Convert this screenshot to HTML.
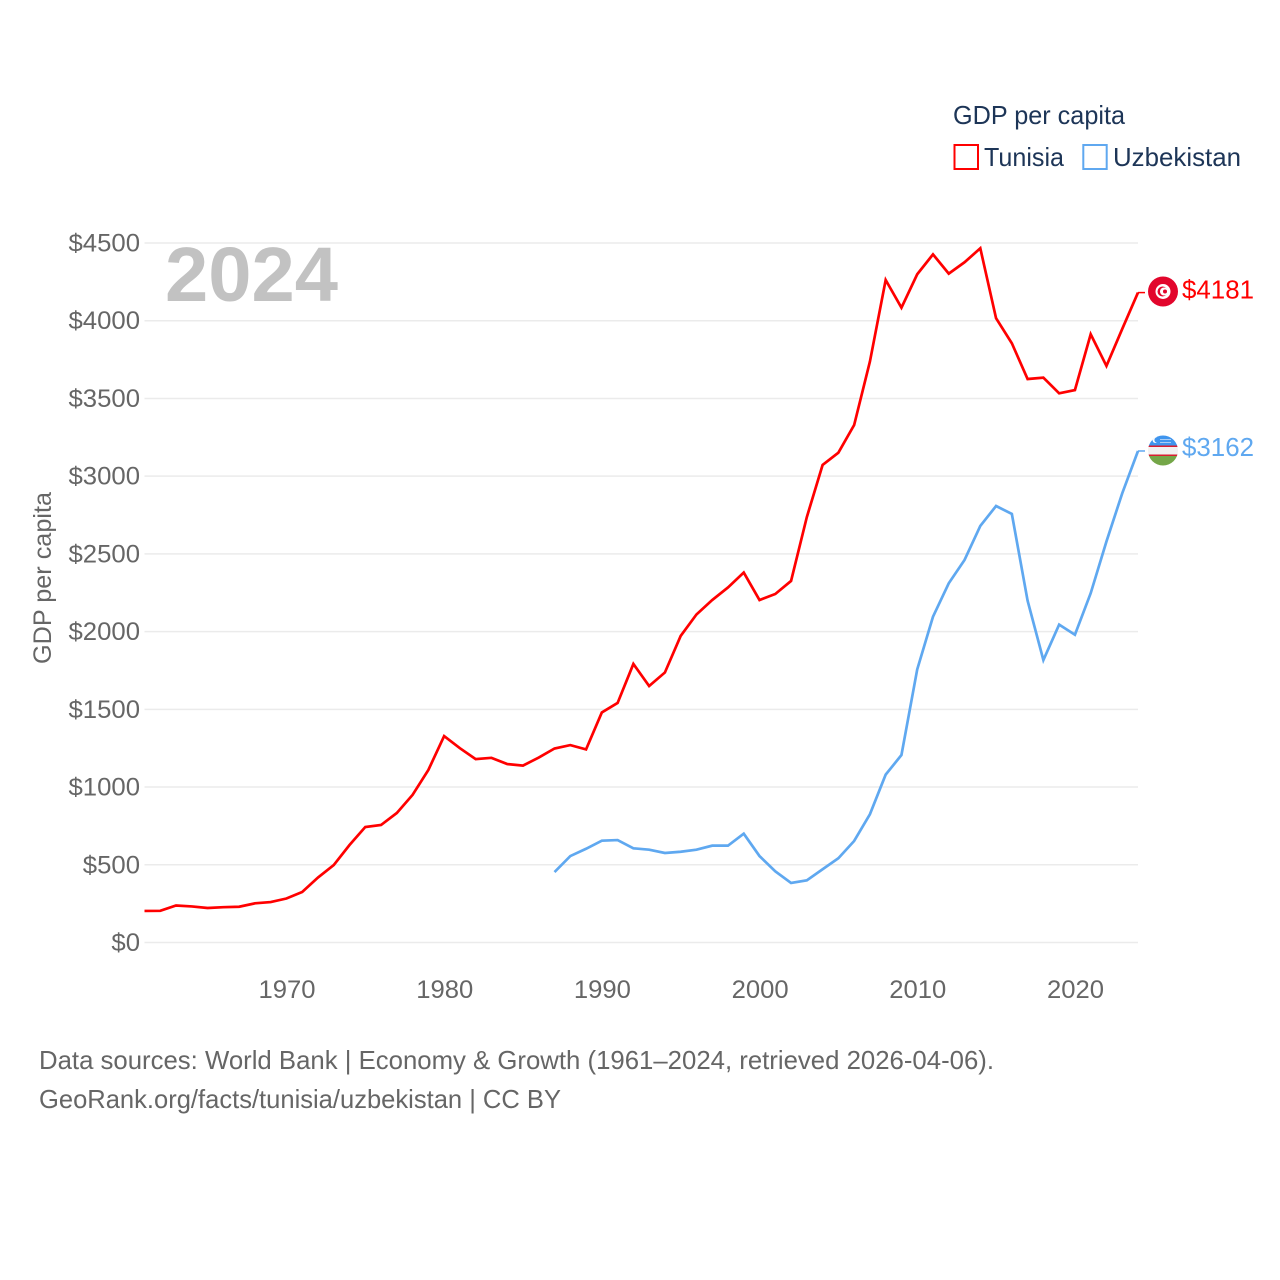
<!DOCTYPE html>
<html lang="en">
<head>
<meta charset="utf-8">
<title>GDP per capita: Tunisia and Uzbekistan</title>
<style>
html,body{margin:0;padding:0;background:#fff;}
svg{display:block;font-family:"Liberation Sans",sans-serif;}
</style>
</head>
<body>
<svg id="chart" xmlns="http://www.w3.org/2000/svg" width="1280" height="1280" viewBox="0 0 1280 1280">
  <defs>
    <clipPath id="flag-clip-uz"><circle cx="1163" cy="450.5" r="15"/></clipPath>
  </defs>
  <rect x="0" y="0" width="1280" height="1280" fill="#fff"/>
  <g id="grid"></g>
  <g id="yticks"></g>
  <g id="xticks"></g>
  <text transform="translate(51,578) rotate(-90)" text-anchor="middle" font-size="25" fill="#666" textLength="172" lengthAdjust="spacingAndGlyphs">GDP per capita</text>
  <text x="165" y="301" font-size="77" font-weight="700" fill="#c2c2c2" textLength="173" lengthAdjust="spacingAndGlyphs">2024</text>
  <g id="series"></g>

  <g>
    <text x="953" y="124" font-size="26" fill="#1d3557" textLength="172" lengthAdjust="spacingAndGlyphs">GDP per capita</text>
    <rect x="954.5" y="145" width="23.5" height="24" fill="#fff" stroke="#ff0000" stroke-width="2"/>
    <text x="984" y="166" font-size="26" fill="#1d3557" textLength="80" lengthAdjust="spacingAndGlyphs">Tunisia</text>
    <rect x="1083.3" y="145" width="23.4" height="24" fill="#fff" stroke="#5fa8f0" stroke-width="2"/>
    <text x="1113" y="166" font-size="26" fill="#1d3557" textLength="128" lengthAdjust="spacingAndGlyphs">Uzbekistan</text>
  </g>

  <g>
    <circle cx="1163" cy="291.5" r="15" fill="#e2062c"/>
    <circle cx="1163" cy="291.5" r="7.5" fill="#fff"/>
    <circle cx="1162.5" cy="291.5" r="5" fill="#e2062c"/>
    <circle cx="1164" cy="291.5" r="4" fill="#fff"/>
    <circle cx="1165" cy="291.5" r="2" fill="#e2062c"/>
  </g>
  <g clip-path="url(#flag-clip-uz)">
    <rect x="1148" y="435" width="30" height="10.5" fill="#3f95ee"/>
    <rect x="1148" y="445.5" width="30" height="1.5" fill="#d81e30"/>
    <rect x="1148" y="447" width="30" height="7.5" fill="#f1f1f1"/>
    <rect x="1148" y="454.5" width="30" height="1.5" fill="#d81e30"/>
    <rect x="1148" y="456" width="30" height="10" fill="#74a648"/>
    <circle cx="1155.5" cy="440" r="3" fill="#fff"/>
    <circle cx="1157" cy="440" r="2.6" fill="#3f95ee"/>
    <rect x="1160" y="439" width="11" height="1" fill="#a9cdf6"/>
    <rect x="1160" y="442" width="11" height="1" fill="#a9cdf6"/>
  </g>

  <g id="endlabels"></g>

  <text x="39" y="1069" font-size="26" fill="#666" textLength="955" lengthAdjust="spacingAndGlyphs">Data sources: World Bank | Economy &amp; Growth (1961–2024, retrieved 2026-04-06).</text>
  <text x="39" y="1108" font-size="26" fill="#666" textLength="522" lengthAdjust="spacingAndGlyphs">GeoRank.org/facts/tunisia/uzbekistan | CC BY</text>
</svg>
<script>
const yTickValues = [0, 500, 1000, 1500, 2000, 2500, 3000, 3500, 4000, 4500];
const xTickYears = [1970, 1980, 1990, 2000, 2010, 2020];
const tunisiaStartYear = 1961;
const tunisiaValues = [203, 204, 238, 232, 222, 227, 230, 252, 260, 283, 325, 418, 498, 627, 743, 756, 833, 950, 1110, 1328, 1250, 1180, 1188, 1148, 1138, 1190, 1248, 1270, 1242, 1480, 1541, 1792, 1650, 1737, 1972, 2110, 2203, 2284, 2380, 2203, 2242, 2326, 2737, 3072, 3151, 3329, 3737, 4262, 4084, 4299, 4427, 4303, 4376, 4466, 4016, 3855, 3625, 3634, 3533, 3554, 3913, 3709, 3947, 4181];
const uzbekistanStartYear = 1987;
const uzbekistanValues = [453, 556, 603, 655, 659, 606, 597, 576, 584, 597, 623, 623, 700, 556, 458, 383, 400, 471, 542, 653, 825, 1080, 1206, 1757, 2096, 2311, 2461, 2680, 2808, 2757, 2199, 1817, 2045, 1980, 2247, 2580, 2890, 3162];

const SVG_NS = 'http://www.w3.org/2000/svg';
const xDomain = [1961, 2024];
const xRange = [144.5, 1138];
const yDomain = [0, 4500];
const yRange = [942.5, 243];
function xScale(year) {
  return xRange[0] + (year - xDomain[0]) / (xDomain[1] - xDomain[0]) * (xRange[1] - xRange[0]);
}
function yScale(value) {
  return yRange[0] + (value - yDomain[0]) / (yDomain[1] - yDomain[0]) * (yRange[1] - yRange[0]);
}
function make(tag, attrs, text) {
  const el = document.createElementNS(SVG_NS, tag);
  Object.keys(attrs).forEach(function (k) { el.setAttribute(k, attrs[k]); });
  if (text !== undefined) el.textContent = text;
  return el;
}
const gridGroup = document.getElementById('grid');
const yTickGroup = document.getElementById('yticks');
const xTickGroup = document.getElementById('xticks');
const seriesGroup = document.getElementById('series');
const endGroup = document.getElementById('endlabels');

yTickValues.forEach(function (v) {
  const line = make('line', { x1: xRange[0], x2: xRange[1], y1: yScale(v), y2: yScale(v), stroke: '#ebebeb', 'stroke-width': 1.5 });
  
  
  gridGroup.appendChild(line);
  const label = '$' + v;
  const tick = make('text', { x: 140, y: yScale(v) + 8.5, 'text-anchor': 'end', 'font-size': 25, fill: '#666', textLength: label.length * 14.3, lengthAdjust: 'spacingAndGlyphs' }, label);
  
  
  yTickGroup.appendChild(tick);
});

xTickYears.forEach(function (yr) {
  const tick = make('text', { x: xScale(yr) + 0.6, y: 998, 'text-anchor': 'middle', 'font-size': 25, fill: '#666', textLength: 57, lengthAdjust: 'spacingAndGlyphs' }, String(yr));
  
  
  xTickGroup.appendChild(tick);
});

function linePoints(startYear, values) {
  return values.map(function (v, i) {
    return xScale(startYear + i).toFixed(2) + ',' + yScale(v).toFixed(2);
  }).join(' ');
}

const tunisiaLine = make('polyline', { points: linePoints(tunisiaStartYear, tunisiaValues), fill: 'none', stroke: '#ff0000', 'stroke-width': 2.7, 'stroke-linejoin': 'miter' });


seriesGroup.appendChild(tunisiaLine);

const uzbekistanLine = make('polyline', { points: linePoints(uzbekistanStartYear, uzbekistanValues), fill: 'none', stroke: '#5fa8f0', 'stroke-width': 2.7, 'stroke-linejoin': 'miter' });


seriesGroup.appendChild(uzbekistanLine);

const tunisiaLast = tunisiaValues[tunisiaValues.length - 1];
const uzbekistanLast = uzbekistanValues[uzbekistanValues.length - 1];

const tunisiaConnector = make('line', { x1: xRange[1], x2: 1145, y1: yScale(tunisiaLast), y2: yScale(tunisiaLast), stroke: '#ff0000', 'stroke-width': 1.5 });


endGroup.appendChild(tunisiaConnector);

const uzbekistanConnector = make('line', { x1: xRange[1], x2: 1145, y1: yScale(uzbekistanLast), y2: yScale(uzbekistanLast), stroke: '#5fa8f0', 'stroke-width': 1.5 });


endGroup.appendChild(uzbekistanConnector);

const tunisiaEnd = make('text', { x: 1182, y: yScale(tunisiaLast) + 6, 'font-size': 26, fill: '#ff0000', textLength: 72, lengthAdjust: 'spacingAndGlyphs' }, '$' + tunisiaLast);


endGroup.appendChild(tunisiaEnd);

const uzbekistanEnd = make('text', { x: 1182, y: yScale(uzbekistanLast) + 5, 'font-size': 26, fill: '#5fa8f0', textLength: 72, lengthAdjust: 'spacingAndGlyphs' }, '$' + uzbekistanLast);


endGroup.appendChild(uzbekistanEnd);
</script>
</body>
</html>
